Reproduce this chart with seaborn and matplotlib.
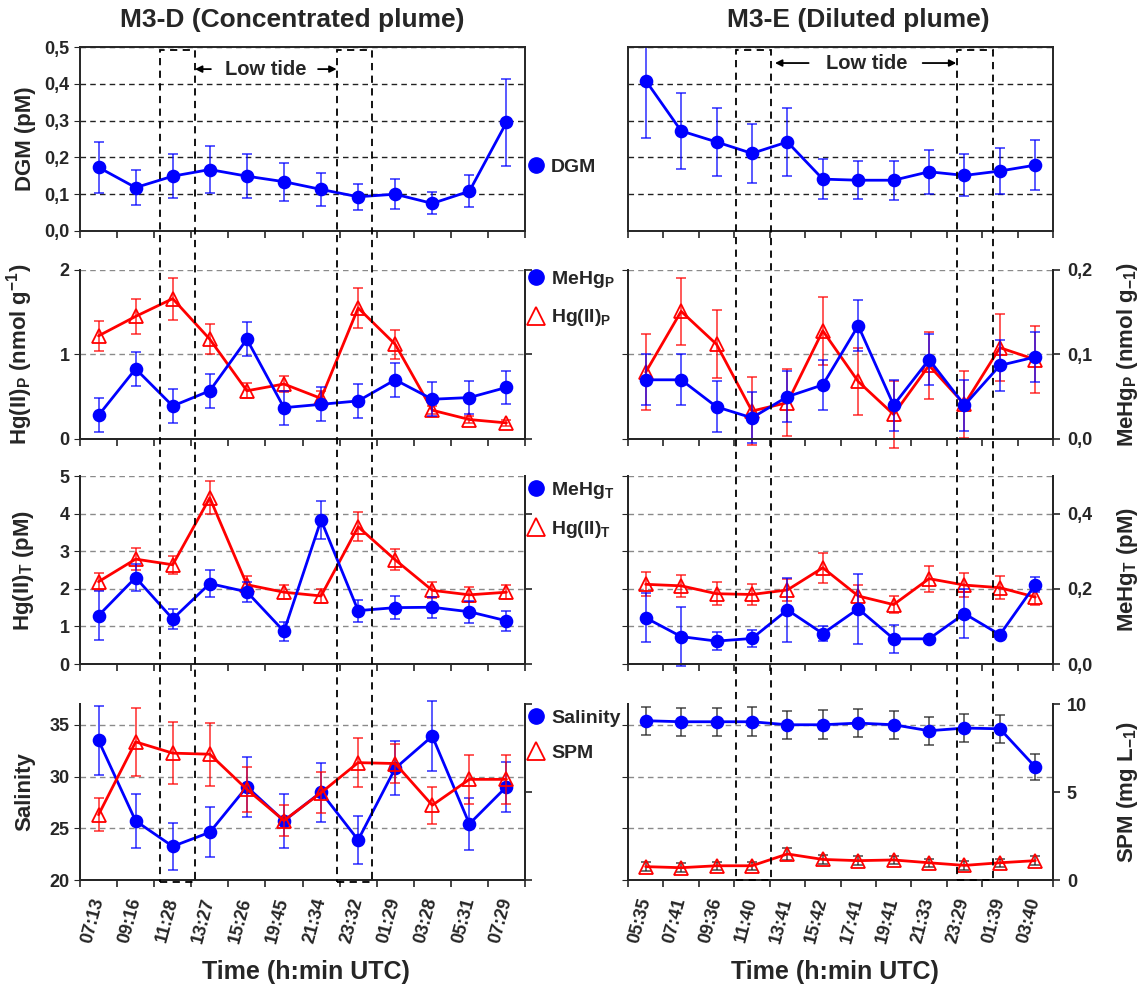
import numpy as np
import pandas as pd
import matplotlib
matplotlib.use('Agg')
import matplotlib.pyplot as plt
import seaborn as sns
from matplotlib.lines import Line2D
from matplotlib.patches import Rectangle
from matplotlib.transforms import blended_transform_factory
import matplotlib.ticker as ticker

# sampling times
times_d = ['07:13', '09:16', '11:28', '13:27', '15:26', '19:45', '21:34', '23:32', '01:29', '03:28', '05:31', '07:29']
times_e = ['05:35', '07:41', '09:36', '11:40', '13:41', '15:42', '17:41', '19:41', '21:33', '23:29', '01:39', '03:40']

# M3-D (concentrated plume)
dgm_d = [0.173, 0.118, 0.149, 0.167, 0.149, 0.134, 0.113, 0.093, 0.100, 0.075, 0.108, 0.295]
dgm_d_err = [0.070, 0.047, 0.059, 0.065, 0.059, 0.052, 0.045, 0.035, 0.040, 0.030, 0.044, 0.117]
hgp_d = [1.22, 1.45, 1.66, 1.18, 0.57, 0.65, 0.48, 1.55, 1.12, 0.34, 0.23, 0.19]
hgp_d_err = [0.18, 0.21, 0.25, 0.18, 0.09, 0.10, 0.09, 0.24, 0.17, 0.05, 0.04, 0.04]
mehgp_d = [0.028, 0.083, 0.039, 0.057, 0.118, 0.037, 0.041, 0.045, 0.070, 0.047, 0.049, 0.061]
mehgp_d_err = [0.02] * 12
hgt_d = [2.19, 2.79, 2.64, 4.42, 2.11, 1.91, 1.81, 3.65, 2.77, 1.96, 1.84, 1.91]
hgt_d_err = [0.23, 0.29, 0.24, 0.44, 0.22, 0.19, 0.18, 0.38, 0.28, 0.21, 0.20, 0.19]
mehgt_d = [0.129, 0.230, 0.120, 0.214, 0.192, 0.087, 0.383, 0.142, 0.150, 0.151, 0.139, 0.115]
mehgt_d_err = [0.064, 0.036, 0.027, 0.036, 0.027, 0.025, 0.050, 0.029, 0.030, 0.028, 0.029, 0.026]
sal_d = [33.48, 25.71, 23.25, 24.61, 29.01, 25.71, 28.49, 23.87, 30.79, 33.90, 25.42, 29.01]
sal_d_err = [3.3, 2.6, 2.3, 2.4, 2.9, 2.6, 2.85, 2.3, 2.6, 3.4, 2.55, 2.4]
spm_d = [3.71, 7.85, 7.21, 7.15, 5.15, 3.38, 4.96, 6.67, 6.62, 4.25, 5.72, 5.72]
spm_d_err = [0.94, 1.94, 1.76, 1.79, 1.29, 0.88, 1.18, 1.38, 1.12, 1.06, 1.41, 1.41]

# M3-E (diluted plume)
dgm_e = [0.409, 0.272, 0.242, 0.211, 0.242, 0.141, 0.138, 0.138, 0.161, 0.151, 0.163, 0.179]
dgm_e_err = [0.155, 0.103, 0.092, 0.081, 0.092, 0.055, 0.051, 0.053, 0.060, 0.057, 0.062, 0.067]
hgp_e = [0.79, 1.51, 1.12, 0.33, 0.43, 1.28, 0.68, 0.29, 0.87, 0.41, 1.08, 0.94]
hgp_e_err = [0.45, 0.40, 0.40, 0.40, 0.40, 0.40, 0.40, 0.40, 0.40, 0.40, 0.40, 0.40]
mehgp_e = [0.070, 0.070, 0.038, 0.025, 0.050, 0.064, 0.134, 0.040, 0.094, 0.040, 0.087, 0.097]
mehgp_e_err = [0.03] * 12
hgt_e = [2.12, 2.08, 1.87, 1.85, 1.97, 2.56, 1.81, 1.58, 2.27, 2.10, 2.03, 1.78]
hgt_e_err = [0.32, 0.30, 0.30, 0.28, 0.30, 0.40, 0.30, 0.23, 0.35, 0.32, 0.30, 0.20]
mehgt_e = [0.123, 0.073, 0.061, 0.068, 0.144, 0.081, 0.147, 0.067, 0.067, 0.134, 0.078, 0.211]
mehgt_e_err = [0.065, 0.079, 0.023, 0.022, 0.085, 0.020, 0.093, 0.038, 0.005, 0.065, 0.005, 0.020]
sal_e = [35.39, 35.29, 35.29, 35.29, 35.00, 35.00, 35.16, 35.00, 34.42, 34.68, 34.61, 30.92]
sal_e_err = [1.37, 1.37, 1.37, 1.38, 1.37, 1.38, 1.37, 1.37, 1.37, 1.36, 1.37, 1.23]
spm_e = [0.76, 0.70, 0.81, 0.81, 1.48, 1.17, 1.10, 1.14, 0.98, 0.83, 0.98, 1.10]
spm_e_err = [0.24, 0.24, 0.24, 0.24, 0.36, 0.24, 0.24, 0.24, 0.24, 0.24, 0.24, 0.24]

BLUE = '#0000ff'
RED = '#ff0000'

sns.set_style('ticks')
plt.rcParams['font.family'] = ['Liberation Sans', 'DejaVu Sans']
plt.rcParams['font.weight'] = 'bold'
plt.rcParams['axes.labelweight'] = 'bold'
plt.rcParams['mathtext.fontset'] = 'custom'
plt.rcParams['mathtext.rm'] = 'Liberation Sans:bold'
plt.rcParams['mathtext.bf'] = 'Liberation Sans:bold'
plt.rcParams['mathtext.it'] = 'Liberation Sans:bold:italic'
plt.rcParams['mathtext.default'] = 'bf'
plt.rcParams['axes.linewidth'] = 1.4


def comma(v, _):
    return f'{v:.1f}'.replace('.', ',')


def add_series(ax, y, err, kind, ecolor=None, clip=False):
    x = np.arange(len(y))
    df = pd.DataFrame({'x': x, 'y': y})
    if kind == 'circle':
        color, marker, mfc, ms = BLUE, 'o', BLUE, 8.5
    else:
        color, marker, mfc, ms = RED, '^', 'none', 10
    ax.errorbar(x, y, yerr=err, fmt='none', ecolor=ecolor or color, elinewidth=1.3,
                capsize=3.5, capthick=1.3, alpha=0.7, clip_on=clip, zorder=2)
    sns.lineplot(data=df, x='x', y='y', ax=ax, color=color, lw=2, marker=marker,
                 markersize=ms, markerfacecolor=mfc, markeredgecolor=color,
                 markeredgewidth=1.3, legend=False, zorder=3)
    ax.set_xlabel('')
    ax.set_ylabel('')


def setup_x(ax, labels=None):
    ax.set_xlim(-0.5, 11.5)
    ax.set_xticks(np.arange(12))
    ax.set_xticks(np.arange(-0.5, 12, 1), minor=True)
    ax.tick_params(axis='x', which='major', length=0, pad=13)
    ax.tick_params(axis='x', which='minor', length=5, width=1.2, direction='out')
    if labels is None:
        ax.set_xticklabels([])
    else:
        ax.set_xticklabels(labels, rotation=75, ha='right', va='center',
                           rotation_mode='anchor', fontsize=13, fontweight='bold')


def grid(ax, dark=False):
    ax.yaxis.grid(True, ls=(0, (4, 3)), color='#222222' if dark else '#8a8a8a', lw=1)
    ax.set_axisbelow(True)


fig = plt.figure(figsize=(11.45, 9.88), dpi=100)
L, LW = 80 / 1145, 445 / 1145
R, RW = 628 / 1145, 425 / 1145
rows = [(0.7662, 0.1862), (0.5557, 0.1711), (0.3279, 0.1903), (0.1093, 0.1781)]
axes = [[fig.add_axes([L, b, LW, h]), fig.add_axes([R, b, RW, h])] for b, h in rows]

circle = Line2D([], [], marker='o', ls='none', color=BLUE, markersize=11)
tri = Line2D([], [], marker='^', ls='none', mfc='none', mec=RED, mew=1.3, markersize=13)


def legend(ax, handles, labels, yfrac):
    ax.legend(handles, labels, loc='center left', bbox_to_anchor=(1.004, yfrac),
              borderaxespad=0, borderpad=0, handlelength=0.9, handletextpad=0.35,
              labelspacing=0.9, frameon=False, prop={'size': 14, 'weight': 'bold'})


# Row 1: DGM
for ax, y, err in ((axes[0][0], dgm_d, dgm_d_err), (axes[0][1], dgm_e, dgm_e_err)):
    add_series(ax, y, err, 'circle', clip=True)
    ax.set_ylim(0, 0.5)
    ax.set_yticks(np.arange(0, 0.51, 0.1))
    grid(ax, dark=True)
    setup_x(ax)
axes[0][0].yaxis.set_major_formatter(ticker.FuncFormatter(comma))
axes[0][0].tick_params(axis='y', labelsize=13, length=4)
axes[0][1].tick_params(axis='y', length=0, labelleft=False)
axes[0][0].set_ylabel('DGM (pM)', fontsize=16)
legend(axes[0][0], [circle], ['DGM'], 0.348)

twins = []
for r in (1, 2, 3):
    for c in (0, 1):
        ax = axes[r][c]
        tw = ax.twinx()
        twins.append(tw)
        ax.spines['top'].set_visible(False)
        tw.spines['top'].set_visible(False)
        setup_x(ax, [times_d, times_e][c] if r == 3 else None)

tw = {(r, c): twins[(r - 1) * 2 + c] for r in (1, 2, 3) for c in (0, 1)}

# Row 2: Hg(II)P (left scale) and MeHgP (right scale)
for c, hg, hge, me, mee in ((0, hgp_d, hgp_d_err, mehgp_d, mehgp_d_err),
                            (1, hgp_e, hgp_e_err, mehgp_e, mehgp_e_err)):
    ax, t = axes[1][c], tw[(1, c)]
    add_series(ax, hg, hge, 'tri')
    add_series(t, me, mee, 'circle')
    ax.set_ylim(0, 2)
    ax.set_yticks([0, 1, 2])
    t.set_ylim(0, 0.2)
    t.set_yticks([0, 0.1, 0.2])
    t.yaxis.set_major_formatter(ticker.FuncFormatter(comma))
    grid(ax)

# Row 3: Hg(II)T and MeHgT
for c, hg, hge, me, mee in ((0, hgt_d, hgt_d_err, mehgt_d, mehgt_d_err),
                            (1, hgt_e, hgt_e_err, mehgt_e, mehgt_e_err)):
    ax, t = axes[2][c], tw[(2, c)]
    add_series(ax, hg, hge, 'tri')
    add_series(t, me, mee, 'circle')
    ax.set_ylim(0, 5)
    ax.set_yticks(range(6))
    t.set_ylim(0, 0.5)
    t.set_yticks([0, 0.2, 0.4])
    t.yaxis.set_major_formatter(ticker.FuncFormatter(comma))
    grid(ax)

# Row 4: salinity (left scale) and SPM (right scale)
for c, sa, sae, sp, spe in ((0, sal_d, sal_d_err, spm_d, spm_d_err),
                            (1, sal_e, sal_e_err, spm_e, spm_e_err)):
    ax, t = axes[3][c], tw[(3, c)]
    ecol = None if c == 0 else '#222222'
    add_series(ax, sa, sae, 'circle', ecolor=ecol)
    add_series(t, sp, spe, 'tri', ecolor=ecol)
    ax.set_ylim(20, 37)
    ax.set_yticks([20, 25, 30, 35])
    t.set_ylim(0, 10)
    t.set_yticks([0, 5, 10])
    grid(ax)

for r in (1, 2, 3):
    axes[r][0].tick_params(axis='y', labelsize=13, length=4)
    tw[(r, 0)].tick_params(axis='y', length=5, width=1.2, labelright=False)
    axes[r][1].tick_params(axis='y', length=4, labelleft=False)
    tw[(r, 1)].tick_params(axis='y', length=5, width=1.2, labelsize=13, pad=5)

axes[1][0].set_ylabel(r'Hg(II)$_P$ (nmol g$^{-1}$)', fontsize=16)
axes[2][0].set_ylabel(r'Hg(II)$_T$ (pM)', fontsize=16)
axes[3][0].set_ylabel('Salinity', fontsize=16)
tw[(1, 1)].set_ylabel(r'MeHg$_P$ (nmol g$_{-1}$)', fontsize=16)
tw[(2, 1)].set_ylabel(r'MeHg$_T$ (pM)', fontsize=16)
tw[(3, 1)].set_ylabel(r'SPM (mg L$_{-1}$)', fontsize=16)
for r in range(4):
    axes[r][0].yaxis.set_label_coords(-0.10, 0.5)
for r in (1, 2, 3):
    tw[(r, 1)].yaxis.set_label_coords(1.146, 0.5)
    tw[(r, 0)].set_ylabel('')

legend(axes[1][0], [circle, tri], [r'MeHg$_P$', r'Hg(II)$_P$'], 0.83)
legend(axes[2][0], [circle, tri], [r'MeHg$_T$', r'Hg(II)$_T$'], 0.82)
legend(axes[3][0], [circle, tri], ['Salinity', 'SPM'], 0.82)

# Low tide boxes spanning all rows
for ax, spans, y0 in ((axes[0][0], [(1.66, 2.6), (6.42, 7.38)], 1 - 882 / 988),
                      (axes[0][1], [(2.55, 3.55), (8.8, 9.8)], 1 - 880 / 988)):
    trans = blended_transform_factory(ax.transData, fig.transFigure)
    y1 = 1 - 50 / 988
    for a, b in spans:
        fig.add_artist(Rectangle((a, y0), b - a, y1 - y0, fill=False, ec='black',
                                 ls=(0, (4, 3)), lw=1.3, transform=trans, zorder=5))

# Low tide arrows
ax = axes[0][0]
ax.text(4.52, 0.88, 'Low tide', transform=blended_transform_factory(ax.transData, ax.transAxes),
        ha='center', va='center', fontsize=14.5, fontweight='bold')
for tail, head in ((3.03, 2.6), (5.92, 6.42)):
    ax.annotate('', xy=(head, 0.88), xytext=(tail, 0.88),
                xycoords=blended_transform_factory(ax.transData, ax.transAxes),
                arrowprops=dict(arrowstyle='-|>', lw=1.3, color='black', mutation_scale=10,
                                shrinkA=0, shrinkB=0))
ax = axes[0][1]
ax.text(6.24, 0.913, 'Low tide', transform=blended_transform_factory(ax.transData, ax.transAxes),
        ha='center', va='center', fontsize=14.5, fontweight='bold')
for tail, head in ((4.6, 3.65), (7.82, 8.77)):
    ax.annotate('', xy=(head, 0.913), xytext=(tail, 0.913),
                xycoords=blended_transform_factory(ax.transData, ax.transAxes),
                arrowprops=dict(arrowstyle='-|>', lw=1.3, color='black', mutation_scale=10,
                                shrinkA=0, shrinkB=0))

fig.text(292 / 1145, 1 - 20 / 988, 'M3-D (Concentrated plume)', ha='center', va='center',
         fontsize=19, fontweight='bold')
fig.text(858 / 1145, 1 - 20 / 988, 'M3-E (Diluted plume)', ha='center', va='center',
         fontsize=19, fontweight='bold')
fig.text(306 / 1145, 1 - 972 / 988, 'Time (h:min UTC)', ha='center', va='center',
         fontsize=18, fontweight='bold')
fig.text(835 / 1145, 1 - 972 / 988, 'Time (h:min UTC)', ha='center', va='center',
         fontsize=18, fontweight='bold')

fig.savefig('out.png', dpi=100)
